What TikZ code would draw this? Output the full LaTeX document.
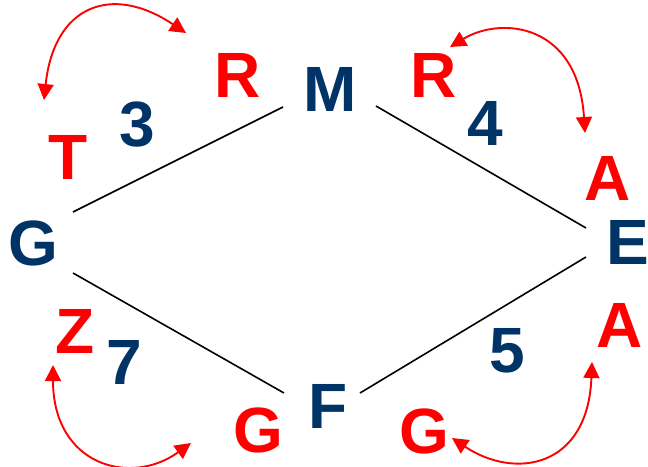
\documentclass[tikz,border=0pt]{standalone}
\usepackage{fontspec}
\setmainfont{Liberation Sans}
\usetikzlibrary{arrows.meta}
\definecolor{navy}{HTML}{003366}
\definecolor{hot}{HTML}{FF0000}
\begin{document}
\begin{tikzpicture}[x=1pt,y=-1pt,
  letter/.style={inner sep=0pt,font=\fontsize{64}{64}\selectfont\bfseries},
  vertex/.style={letter,text=navy},
  weight/.style={letter,text=navy},
  tag/.style={letter,text=hot},
  edge/.style={line width=1.6pt,black},
  swap/.style={hot,line width=1.9pt,
    {Triangle[length=16pt,width=16pt]}-{Triangle[length=16pt,width=16pt]}}]
\useasboundingbox (0,0) rectangle (648,466);

% vertices
\node[vertex] (M) at (330,89) {M};
\node[vertex] (G) at (33,243) {G};
\node[vertex] (E) at (628,242) {E};
\node[vertex] (F) at (328,406) {F};

% edge weights
\node[weight] (w3) at (137,125) {3};
\node[weight] (w4) at (485,123) {4};
\node[weight] (w7) at (124,362) {7};
\node[weight] (w5) at (507,351) {5};

% red letters
\node[tag] (r1) at (238,75) {R};
\node[tag] (t1) at (68,157) {T};
\node[tag] (r2) at (434,75) {R};
\node[tag] (a1) at (608,178) {A};
\node[tag] (z1) at (75,331) {Z};
\node[tag] (a2) at (620,325) {A};
\node[tag] (g1) at (258,430) {G};
\node[tag] (g2) at (424,431) {G};

% edge end points
\coordinate (GMa) at (73,212);  \coordinate (GMb) at (283,107);
\coordinate (MEa) at (376,106); \coordinate (MEb) at (586,228);
\coordinate (GFa) at (73,273);  \coordinate (GFb) at (284,393);
\coordinate (FEa) at (360,393); \coordinate (FEb) at (586,257);

\draw[edge] (GMa) -- (GMb);
\draw[edge] (MEa) -- (MEb);
\draw[edge] (GFa) -- (GFb);
\draw[edge] (FEa) -- (FEb);

% swap arrows
\coordinate (s1a) at (44,100);  \coordinate (s1b) at (186,33);
\coordinate (s2a) at (450,47);  \coordinate (s2b) at (585,133);
\coordinate (s3a) at (53,365);  \coordinate (s3b) at (191,443);
\coordinate (s4a) at (452,438); \coordinate (s4b) at (592,362);

\draw[swap] (s1a) .. controls (54,6) and (111,-17) .. (s1b);
\draw[swap] (s2a) .. controls (501,16) and (578,23) .. (s2b);
\draw[swap] (s3a) .. controls (53,465) and (130,487) .. (s3b);
\draw[swap] (s4a) .. controls (515,480) and (588,468) .. (s4b);
\end{tikzpicture}
\end{document}
